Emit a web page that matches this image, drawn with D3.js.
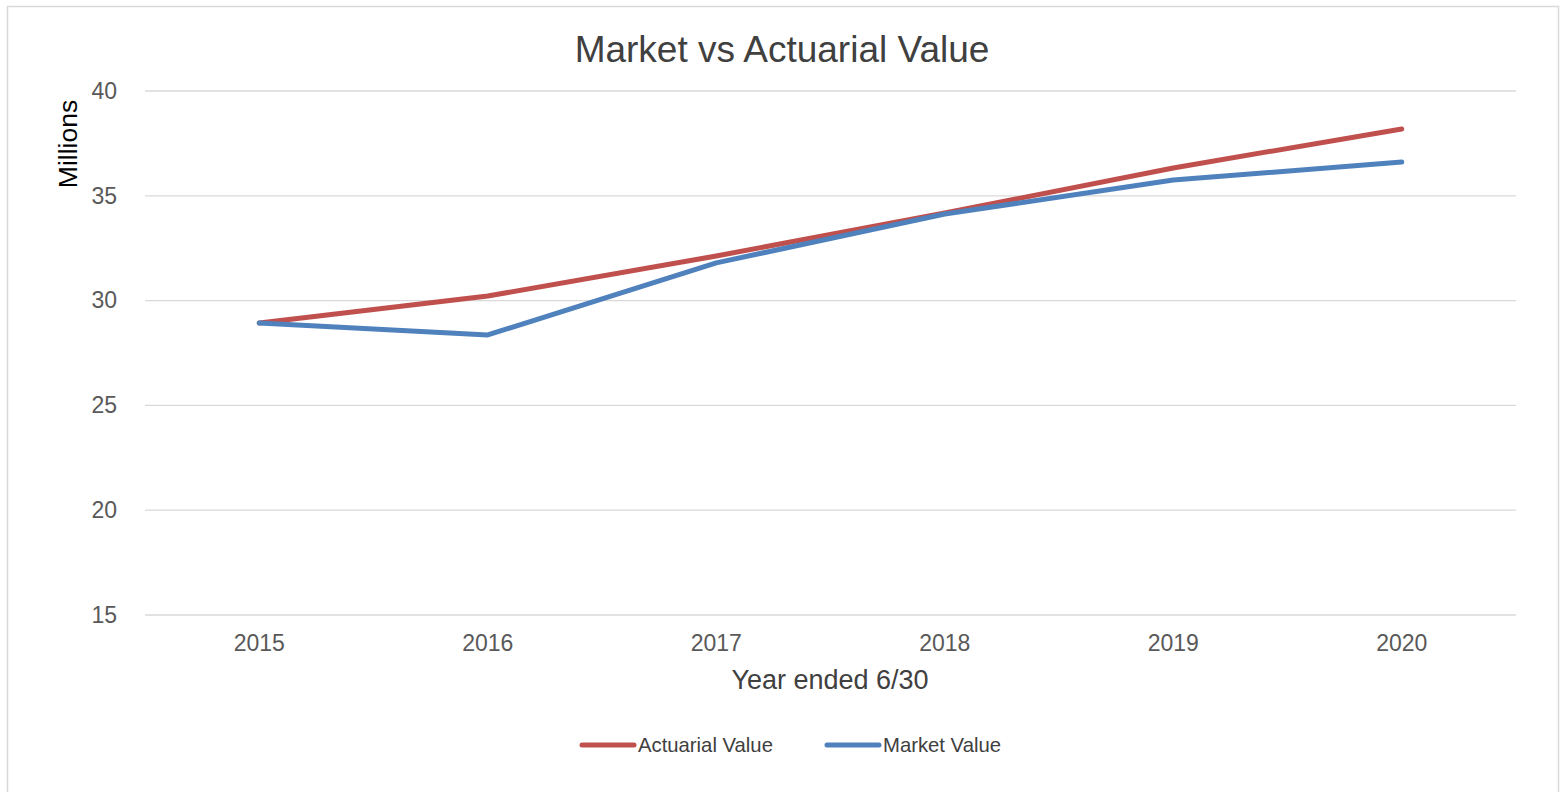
<!DOCTYPE html>
<html><head><meta charset="utf-8">
<script src="https://cdn.jsdelivr.net/npm/d3@7"></script>
<style>body{margin:0;background:#fff;}svg{display:block;font-family:"Liberation Sans",Arial,sans-serif;}</style>
</head><body>
<svg id="c" width="1566" height="792"></svg>
<script>
const years = ["2015","2016","2017","2018","2019","2020"];
const actuarialValue = [28.93, 30.22, 32.13, 34.18, 36.33, 38.19];
const marketValue = [28.93, 28.36, 31.80, 34.13, 35.75, 36.61];
const yTicks = [15, 20, 25, 30, 35, 40];
const seriesNames = ["Actuarial Value", "Market Value"];
const seriesColors = ["#c0504d", "#4f81bd"];

const svg = d3.select("#c");
svg.append("rect").attr("x",7.5).attr("y",6.5).attr("width",1551).attr("height",800)
  .attr("fill","#fff").attr("stroke","#d9d9d9").attr("stroke-width",1.5);

const L=145, R=1516, T=91, B=615;
const x = d3.scaleBand().domain(years).range([L,R]);
const y = d3.scaleLinear().domain([15,40]).range([B,T]);

// gridlines
svg.append("g").selectAll("line").data(yTicks).join("line")
  .attr("x1",L).attr("x2",R).attr("y1",d=>y(d)).attr("y2",d=>y(d))
  .attr("stroke","#d9d9d9").attr("stroke-width",1.3);

// y axis labels
const ya = svg.append("g").attr("transform",`translate(${L},0)`)
  .call(d3.axisLeft(y).tickValues(yTicks).tickSize(0).tickPadding(28));
ya.select(".domain").remove();
ya.selectAll("text").attr("font-size",23).attr("fill","#595959").attr("font-family","Liberation Sans, Arial, sans-serif");

// x axis labels
const xa = svg.append("g").attr("transform",`translate(0,${B})`)
  .call(d3.axisBottom(x).tickSize(0).tickPadding(20));
xa.select(".domain").remove();
xa.selectAll("text").attr("font-size",23).attr("fill","#595959").attr("font-family","Liberation Sans, Arial, sans-serif");

// lines
const line = d3.line().x((d,i)=>x(years[i])+x.bandwidth()/2).y(d=>y(d));
[actuarialValue, marketValue].forEach((s,k)=>{
  svg.append("path").datum(s).attr("d",line).attr("fill","none")
    .attr("stroke",seriesColors[k]).attr("stroke-width",5)
    .attr("stroke-linecap","round").attr("stroke-linejoin","round");
});

// title
svg.append("text").attr("x",782).attr("y",62).attr("text-anchor","middle")
  .attr("font-size",37).attr("fill","#404040").text("Market vs Actuarial Value");
// x title
svg.append("text").attr("x",830).attr("y",689).attr("text-anchor","middle")
  .attr("font-size",27).attr("fill","#404040").text("Year ended 6/30");
// y title
svg.append("text").attr("transform","translate(77,144) rotate(-90)").attr("text-anchor","middle")
  .attr("font-size",26.5).attr("fill","#000").text("Millions");

// legend
const lg = [{x:580},{x:825}];
seriesNames.forEach((n,k)=>{
  const g = svg.append("g");
  g.append("line").attr("x1",lg[k].x+2).attr("x2",lg[k].x+54).attr("y1",745).attr("y2",745)
    .attr("stroke",seriesColors[k]).attr("stroke-width",5).attr("stroke-linecap","round");
  g.append("text").attr("x",lg[k].x+58).attr("y",752).attr("font-size",20.3).attr("fill","#404040").text(n);
});
</script>
</body></html>
